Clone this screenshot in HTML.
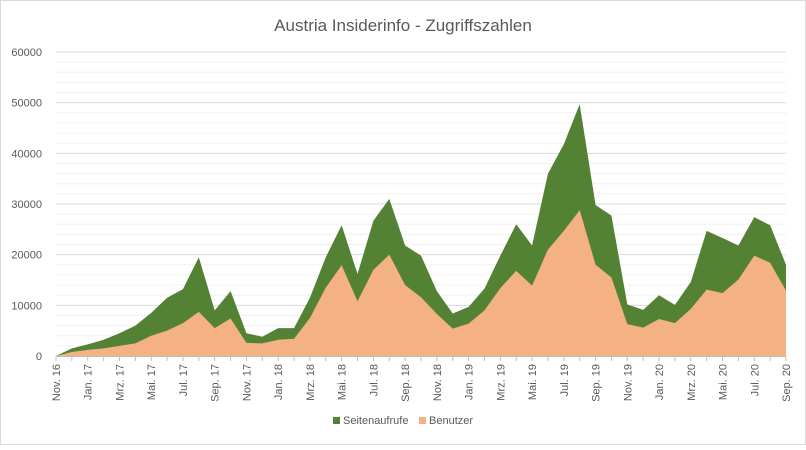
<!DOCTYPE html>
<html><head><meta charset="utf-8"><style>
body{margin:0;background:#fff;font-family:"Liberation Sans",sans-serif}
svg text{font-family:"Liberation Sans",sans-serif}
</style></head><body>
<svg id="chart" width="806" height="445" viewBox="0 0 806 445" xmlns="http://www.w3.org/2000/svg">
<rect x="0.5" y="0.5" width="805" height="444" fill="#fff" stroke="#d9d9d9"/>
<text x="403" y="31" text-anchor="middle" font-size="17" fill="#595959">Austria Insiderinfo - Zugriffszahlen</text>
<g id="grid"></g><g id="areas"></g><g id="yaxis"></g><g id="xaxis"></g>
<g>
<rect x="333" y="417" width="7" height="7" fill="#548235"/>
<text x="343" y="424" font-size="11" fill="#595959">Seitenaufrufe</text>
<rect x="419" y="417" width="7" height="7" fill="#F4B183"/>
<text x="429" y="424" font-size="11" fill="#595959">Benutzer</text>
</g>
</svg>
<script>
const months=["Nov. 16","Dez. 16","Jan. 17","Feb. 17","Mrz. 17","Apr. 17","Mai. 17","Jun. 17","Jul. 17","Aug. 17","Sep. 17","Okt. 17","Nov. 17","Dez. 17","Jan. 18","Feb. 18","Mrz. 18","Apr. 18","Mai. 18","Jun. 18","Jul. 18","Aug. 18","Sep. 18","Okt. 18","Nov. 18","Dez. 18","Jan. 19","Feb. 19","Mrz. 19","Apr. 19","Mai. 19","Jun. 19","Jul. 19","Aug. 19","Sep. 19","Okt. 19","Nov. 19","Dez. 19","Jan. 20","Feb. 20","Mrz. 20","Apr. 20","Mai. 20","Jun. 20","Jul. 20","Aug. 20","Sep. 20"];
const seitenaufrufe=[0,1500,2300,3200,4500,6000,8500,11500,13200,19500,9000,12800,4500,3800,5500,5500,11500,19500,25800,16200,26700,31000,21800,19800,12800,8400,9700,13300,19800,26000,21800,36000,41800,49700,29800,27700,10200,9100,12000,10100,14600,24700,23300,21800,27400,25800,18000];
const benutzer=[0,800,1200,1500,2000,2500,4000,5000,6500,8700,5500,7400,2600,2500,3200,3400,7500,13500,17900,10800,17000,20000,14000,11600,8300,5400,6400,9000,13400,16800,13900,21000,24700,28800,18000,15500,6300,5600,7300,6500,9300,13100,12400,15100,19800,18400,12900];
const yTicks=[0,10000,20000,30000,40000,50000,60000];
const NS="http://www.w3.org/2000/svg";
const x0=56,x1=786,y0=356,y1=52,yMax=60000;
const X=i=>x0+(x1-x0)*i/(months.length-1);
const Y=v=>y0-(y0-y1)*v/yMax;
function mk(t,a,p){const e=document.createElementNS(NS,t);for(const k in a)e.setAttribute(k,a[k]);p.appendChild(e);return e;}
const grid=document.getElementById('grid');
for(let v=2000;v<=yMax;v+=2000){
 const major=v%10000===0;
 const l=mk('line',{x1:x0,x2:x1,y1:Y(v),y2:Y(v),stroke:major?'#d9d9d9':'#f0f0f0','stroke-width':1},grid);
 
 
}
const areas=document.getElementById('areas');
function area(vals,color,name){
 let d=`M${X(0)},${Y(0)}`;vals.forEach((v,i)=>d+=`L${X(i)},${Y(v)}`);d+=`L${X(vals.length-1)},${Y(0)}Z`;
 const p=mk('path',{d:d,fill:color},areas);
 
 
}
area(seitenaufrufe,'#548235','area-seitenaufrufe');
area(benutzer,'#F4B183','area-benutzer');
const ax=mk('line',{x1:x0,x2:x1,y1:y0+0.5,y2:y0+0.5,stroke:'#bfbfbf'},areas);


const ya=document.getElementById('yaxis');
yTicks.forEach(v=>{
 const t=mk('text',{x:42,y:Y(v)+4,'text-anchor':'end','font-size':11,fill:'#595959'},ya);
 t.textContent=v;
 
 
});
const xa=document.getElementById('xaxis');
months.forEach((m,i)=>{
 const tk=mk('line',{x1:X(i),x2:X(i),y1:y0,y2:y0+5,stroke:'#bfbfbf'},xa);
 
 
 if(i%2)return;
 const t=mk('text',{x:0,y:0,'text-anchor':'end','font-size':11,fill:'#595959',transform:`translate(${X(i)+4},${y0+8}) rotate(-90)`},xa);
 t.textContent=m;
 
 
});
</script>
</body></html>
